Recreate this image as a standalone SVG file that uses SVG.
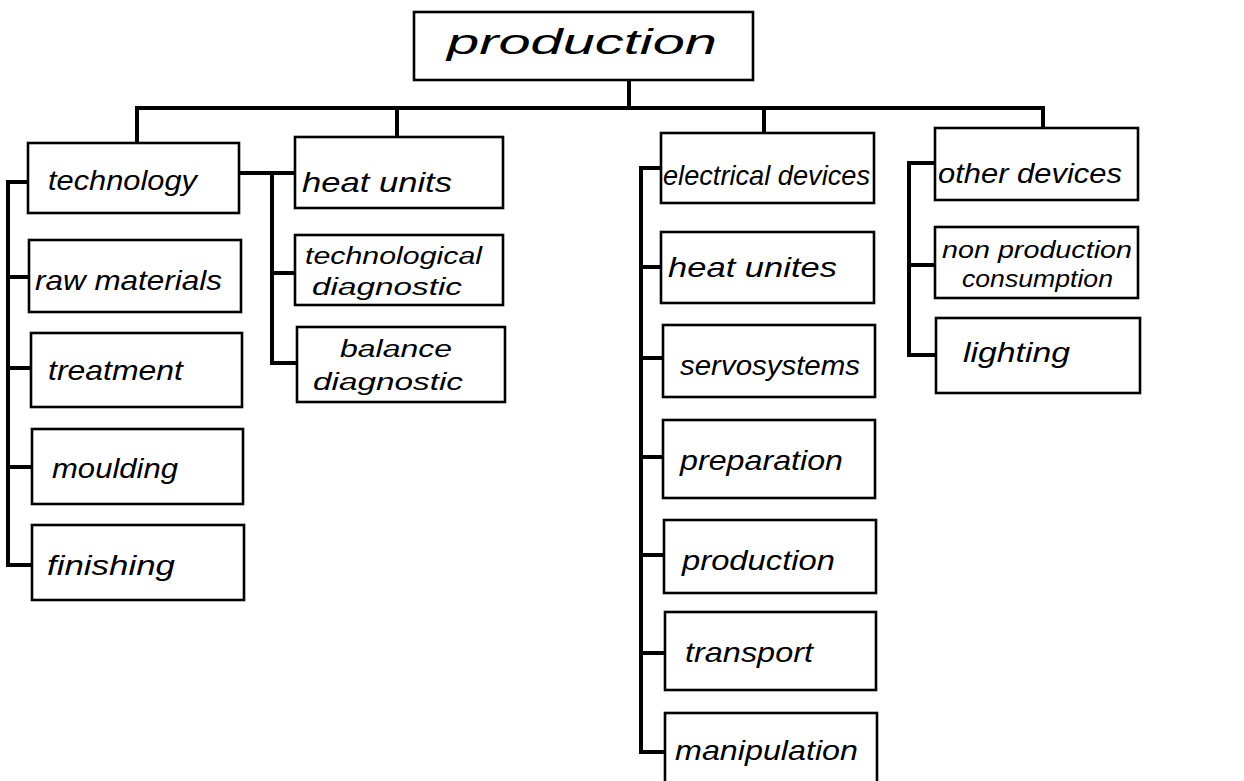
<svg xmlns="http://www.w3.org/2000/svg" width="1244" height="781" viewBox="0 0 1244 781">
  <style>
    .box { fill: #fff; stroke: #000; stroke-width: 2.6; }
    .wire { fill: none; stroke: #000; stroke-width: 4; stroke-linejoin: miter; stroke-linecap: square; }
    .lbl { font-family: "Liberation Sans", "DejaVu Sans", sans-serif; font-style: italic; fill: #000; font-size: 28px; }
    .sm { font-size: 23px; }
    .big { font-size: 35px; }
  </style>
  <rect width="1244" height="781" fill="#fff"/>

  <!-- tree connectors -->
  <g id="connectors">
    <!-- root stem and bus -->
    <path class="wire" d="M629 80 V108"/>
    <path class="wire" d="M137 143 V108 H1043 V127"/>
    <path class="wire" d="M397 108 V137"/>
    <path class="wire" d="M764 108 V133"/>
    <!-- technology branch -->
    <path class="wire" d="M28 182 H8 V565 H32"/>
    <path class="wire" d="M8 277 H29"/>
    <path class="wire" d="M8 368 H31"/>
    <path class="wire" d="M8 467 H32"/>
    <!-- technology to heat units branch -->
    <path class="wire" d="M239 173 H295"/>
    <path class="wire" d="M272 173 V363 H297"/>
    <path class="wire" d="M272 273 H295"/>
    <!-- electrical devices branch -->
    <path class="wire" d="M661 168 H641 V752 H665"/>
    <path class="wire" d="M641 267 H661"/>
    <path class="wire" d="M641 358 H663"/>
    <path class="wire" d="M641 457 H663"/>
    <path class="wire" d="M641 555 H664"/>
    <path class="wire" d="M641 653 H665"/>
    <!-- other devices branch -->
    <path class="wire" d="M935 163 H909 V355 H936"/>
    <path class="wire" d="M909 265 H935"/>
  </g>

  <g id="n-production-root">
    <rect class="box" x="414" y="12" width="339" height="68"/>
    <text class="lbl big" x="447" y="54" textLength="270" lengthAdjust="spacingAndGlyphs">production</text>
  </g>

  <g id="n-technology">
    <rect class="box" x="28" y="143" width="211" height="70"/>
    <text class="lbl" x="48" y="190" textLength="149" lengthAdjust="spacingAndGlyphs">technology</text>
  </g>
  <g id="n-raw-materials">
    <rect class="box" x="29" y="240" width="212" height="72"/>
    <text class="lbl" x="35" y="290" textLength="187" lengthAdjust="spacingAndGlyphs">raw materials</text>
  </g>
  <g id="n-treatment">
    <rect class="box" x="31" y="333" width="211" height="74"/>
    <text class="lbl" x="48" y="380" textLength="135" lengthAdjust="spacingAndGlyphs">treatment</text>
  </g>
  <g id="n-moulding">
    <rect class="box" x="32" y="429" width="211" height="75"/>
    <text class="lbl" x="52" y="478" textLength="126" lengthAdjust="spacingAndGlyphs">moulding</text>
  </g>
  <g id="n-finishing">
    <rect class="box" x="32" y="525" width="212" height="75"/>
    <text class="lbl" x="47" y="575" textLength="128" lengthAdjust="spacingAndGlyphs">finishing</text>
  </g>

  <g id="n-heat-units">
    <rect class="box" x="295" y="137" width="208" height="71"/>
    <text class="lbl" x="302" y="192" textLength="150" lengthAdjust="spacingAndGlyphs">heat units</text>
  </g>
  <g id="n-technological-diagnostic">
    <rect class="box" x="295" y="235" width="208" height="70"/>
    <text class="lbl sm" x="305" y="264" textLength="177" lengthAdjust="spacingAndGlyphs">technological</text>
    <text class="lbl sm" x="312" y="295" textLength="150" lengthAdjust="spacingAndGlyphs">diagnostic</text>
  </g>
  <g id="n-balance-diagnostic">
    <rect class="box" x="297" y="327" width="208" height="75"/>
    <text class="lbl sm" x="340" y="357" textLength="112" lengthAdjust="spacingAndGlyphs">balance</text>
    <text class="lbl sm" x="313" y="390" textLength="150" lengthAdjust="spacingAndGlyphs">diagnostic</text>
  </g>

  <g id="n-electrical-devices">
    <rect class="box" x="661" y="133" width="213" height="70"/>
    <text class="lbl" x="663" y="185" textLength="207" lengthAdjust="spacingAndGlyphs">electrical devices</text>
  </g>
  <g id="n-heat-unites">
    <rect class="box" x="661" y="232" width="213" height="71"/>
    <text class="lbl" x="668" y="277" textLength="169" lengthAdjust="spacingAndGlyphs">heat unites</text>
  </g>
  <g id="n-servosystems">
    <rect class="box" x="663" y="325" width="212" height="72"/>
    <text class="lbl" x="680" y="375" textLength="180" lengthAdjust="spacingAndGlyphs">servosystems</text>
  </g>
  <g id="n-preparation">
    <rect class="box" x="663" y="420" width="212" height="78"/>
    <text class="lbl" x="680" y="470" textLength="163" lengthAdjust="spacingAndGlyphs">preparation</text>
  </g>
  <g id="n-production">
    <rect class="box" x="664" y="520" width="212" height="73"/>
    <text class="lbl" x="682" y="570" textLength="153" lengthAdjust="spacingAndGlyphs">production</text>
  </g>
  <g id="n-transport">
    <rect class="box" x="665" y="612" width="211" height="78"/>
    <text class="lbl" x="685" y="662" textLength="128" lengthAdjust="spacingAndGlyphs">transport</text>
  </g>
  <g id="n-manipulation">
    <rect class="box" x="665" y="713" width="212" height="90"/>
    <text class="lbl" x="675" y="760" textLength="183" lengthAdjust="spacingAndGlyphs">manipulation</text>
  </g>

  <g id="n-other-devices">
    <rect class="box" x="935" y="128" width="203" height="72"/>
    <text class="lbl" x="938" y="183" textLength="184" lengthAdjust="spacingAndGlyphs">other devices</text>
  </g>
  <g id="n-non-production-consumption">
    <rect class="box" x="935" y="227" width="203" height="71"/>
    <text class="lbl sm" x="942" y="258" textLength="190" lengthAdjust="spacingAndGlyphs">non production</text>
    <text class="lbl sm" x="962" y="287" textLength="151" lengthAdjust="spacingAndGlyphs">consumption</text>
  </g>
  <g id="n-lighting">
    <rect class="box" x="936" y="318" width="204" height="75"/>
    <text class="lbl" x="963" y="362" textLength="107" lengthAdjust="spacingAndGlyphs">lighting</text>
  </g>
</svg>
